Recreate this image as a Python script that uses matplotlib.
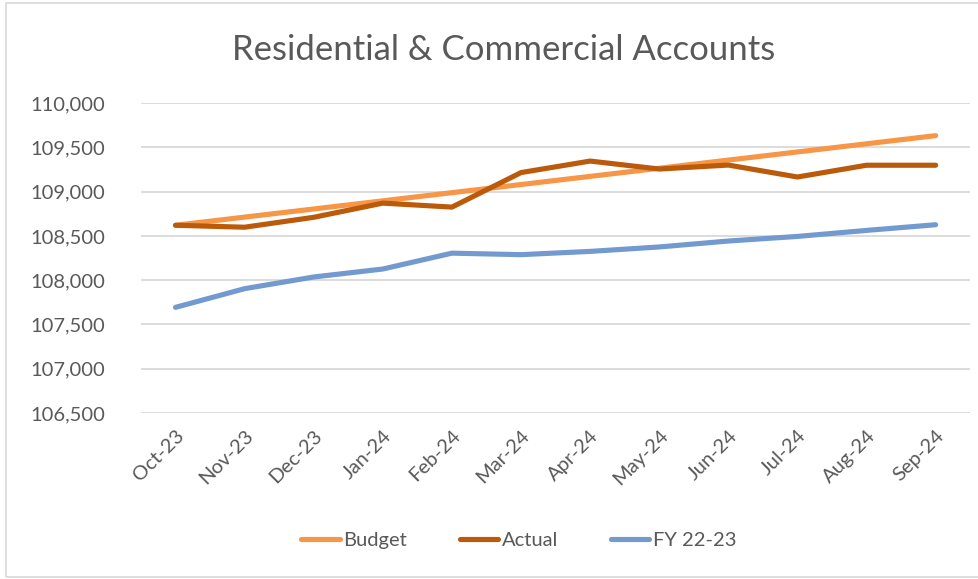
import matplotlib.pyplot as plt
import matplotlib.patches as mpatches

months = ["Oct-23", "Nov-23", "Dec-23", "Jan-24", "Feb-24", "Mar-24",
          "Apr-24", "May-24", "Jun-24", "Jul-24", "Aug-24", "Sep-24"]
budget = [108620, 108712, 108804, 108896, 108988, 109080,
          109172, 109264, 109356, 109448, 109540, 109632]
actual = [108620, 108598, 108710, 108870, 108825, 109215,
          109345, 109255, 109300, 109165, 109298, 109298]
fy2223 = [107693, 107904, 108036, 108126, 108305, 108288,
          108325, 108375, 108442, 108494, 108562, 108626]

plt.rcParams['font.family'] = ['Lato', 'DejaVu Sans']
txt = '#595959'

fig = plt.figure(figsize=(9.79, 5.79), dpi=100)
ax = fig.add_axes([0.144, 0.2867, 0.847, 0.5353])

x = list(range(len(months)))
ax.plot(x, budget, color='#F79646', lw=3.7, solid_capstyle='round', label='Budget')
ax.plot(x, actual, color='#BA5A0A', lw=3.7, solid_capstyle='round', label='Actual')
ax.plot(x, fy2223, color='#729ACF', lw=3.7, solid_capstyle='round', label='FY 22-23')

ax.set_xlim(-0.5, 11.5)
ax.set_ylim(106500, 110000)
ax.set_yticks(range(106500, 110001, 500))
ax.set_yticklabels([f"{v:,}" for v in range(106500, 110001, 500)])
ax.set_xticks(x)
ax.set_xticklabels(months, rotation=45, ha='right', rotation_mode='anchor')
ax.tick_params(length=0, labelsize=14.5, colors=txt)
ax.tick_params(axis='y', pad=26)
ax.tick_params(axis='x', pad=10)
ax.grid(axis='y', color='#D9D9D9', lw=1.3)
ax.set_axisbelow(True)
for s in ax.spines.values():
    s.set_visible(False)

fig.text(0.514, 0.914, "Residential & Commercial Accounts", ha='center', va='center',
         fontsize=25, color=txt)

leg = fig.legend(loc='center', bbox_to_anchor=(0.53, 0.066), ncol=3, frameon=False,
                 fontsize=14.5, handlelength=1.9, columnspacing=2.6, handletextpad=0.2)
for t in leg.get_texts():
    t.set_color(txt)

fig.patches.append(mpatches.Rectangle((0.006, 0.004), 1.2, 0.99, transform=fig.transFigure,
                                      fill=False, edgecolor='#D9D9D9', lw=1.2))

fig.savefig('out.png', dpi=100)
